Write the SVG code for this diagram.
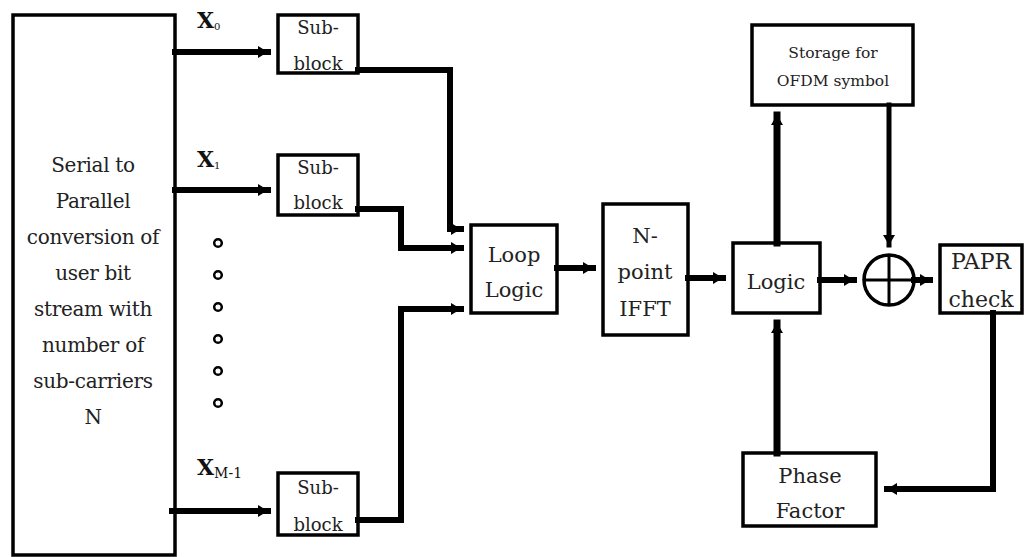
<svg xmlns="http://www.w3.org/2000/svg" width="1027" height="557" viewBox="0 0 1027 557">
<style>
.box{fill:#fff;stroke:#000;stroke-width:3.5}
text{font-family:'DejaVu Serif','Liberation Serif',serif}
.t{fill:#222;text-anchor:middle}
.c{fill:none;stroke:#000;stroke-width:6;stroke-linejoin:miter;stroke-linecap:square}
.lbl{fill:#111}
.dot{fill:#fff;stroke:#000;stroke-width:2.5}
</style>
<defs>
<marker id="ah" markerUnits="userSpaceOnUse" markerWidth="12" markerHeight="14" refX="10" refY="7" orient="auto">
<path d="M0,1 L10,7 L0,13 Z" fill="#000"/>
</marker>
</defs>
<rect width="1027" height="557" fill="#fff"/>

<g id="serial-to-parallel">
<rect class="box" x="13" y="15" width="162" height="540"/>
<text class="t" font-size="20" letter-spacing="-0.3"><tspan x="93" y="172">Serial to</tspan><tspan x="93" y="208">Parallel</tspan><tspan x="93" y="244">conversion of</tspan><tspan x="93" y="280">user bit</tspan><tspan x="93" y="316">stream with</tspan><tspan x="93" y="352">number of</tspan><tspan x="93" y="388">sub-carriers</tspan><tspan x="93" y="424">N</tspan></text>
</g>

<g id="labels">
<text class="lbl" x="197" y="28" font-size="22" font-weight="bold">X<tspan font-size="10" font-weight="normal" dy="2">0</tspan></text>
<text class="lbl" x="197" y="167" font-size="22" font-weight="bold">X<tspan font-size="10" font-weight="normal" dy="2">1</tspan></text>
<text class="lbl" x="197" y="475" font-size="22" font-weight="bold">X<tspan font-size="14" font-weight="normal" dy="3">M-1</tspan></text>
</g>

<g id="dots">
<circle class="dot" cx="218" cy="243" r="3.8"/>
<circle class="dot" cx="218" cy="275" r="3.8"/>
<circle class="dot" cx="218" cy="307" r="3.8"/>
<circle class="dot" cx="218" cy="339" r="3.8"/>
<circle class="dot" cx="218" cy="371" r="3.8"/>
<circle class="dot" cx="218" cy="403" r="3.8"/>
</g>

<g id="subblock-0">
<rect class="box" x="278" y="15" width="80" height="58"/>
<text class="t" font-size="18"><tspan x="318" y="34">Sub-</tspan><tspan x="318" y="70">block</tspan></text>
</g>
<g id="subblock-1">
<rect class="box" x="278" y="155" width="80" height="60"/>
<text class="t" font-size="18"><tspan x="318" y="174">Sub-</tspan><tspan x="318" y="209">block</tspan></text>
</g>
<g id="subblock-m1">
<rect class="box" x="278" y="473" width="80" height="62"/>
<text class="t" font-size="18"><tspan x="318" y="494">Sub-</tspan><tspan x="318" y="531">block</tspan></text>
</g>

<g id="loop-logic">
<rect class="box" x="471" y="225" width="86" height="88"/>
<text class="t" font-size="21"><tspan x="514" y="262">Loop</tspan><tspan x="514" y="297">Logic</tspan></text>
</g>

<g id="ifft">
<rect class="box" x="603" y="204" width="85" height="131"/>
<text class="t" font-size="21"><tspan x="645" y="243">N-</tspan><tspan x="645" y="279">point</tspan><tspan x="645" y="316">IFFT</tspan></text>
</g>

<g id="logic">
<rect class="box" x="733" y="243" width="87" height="70"/>
<text class="t" font-size="21" x="776" y="289">Logic</text>
</g>

<g id="storage">
<rect class="box" x="752" y="25" width="161" height="80"/>
<text class="t" font-size="15.5"><tspan x="833" y="58">Storage for</tspan><tspan x="833" y="86">OFDM symbol</tspan></text>
</g>

<g id="adder">
<circle cx="889" cy="280" r="25" fill="#fff" stroke="#000" stroke-width="3.5"/>
<line x1="864" y1="280" x2="914" y2="280" stroke="#000" stroke-width="3"/>
<line x1="889" y1="255" x2="889" y2="305" stroke="#000" stroke-width="3"/>
</g>

<g id="papr">
<rect class="box" x="940" y="245" width="82" height="68"/>
<text class="t" font-size="22"><tspan x="981" y="269">PAPR</tspan><tspan x="981" y="307">check</tspan></text>
</g>

<g id="phase-factor">
<rect class="box" x="743" y="453" width="133" height="73"/>
<text class="t" font-size="21"><tspan x="810" y="483">Phase</tspan><tspan x="810" y="518">Factor</tspan></text>
</g>

<g id="connectors">
<path class="c" d="M175,52 H268" marker-end="url(#ah)"/>
<path class="c" d="M175,190 H268" marker-end="url(#ah)"/>
<path class="c" d="M172,511 H268" marker-end="url(#ah)"/>
<path class="c" d="M358,70 H450 V229 H461" marker-end="url(#ah)"/>
<path class="c" d="M358,209 H401 V248 H461" marker-end="url(#ah)"/>
<path class="c" d="M358,520 H401 V309 H461" marker-end="url(#ah)"/>
<path class="c" d="M557,268 H593" marker-end="url(#ah)"/>
<path class="c" d="M688,278 H723" marker-end="url(#ah)"/>
<path class="c" d="M777,243 V115" marker-end="url(#ah)" style="stroke-width:7"/>
<path class="c" d="M889,105 V245" marker-end="url(#ah)" style="stroke-width:5"/>
<path class="c" d="M820,280 H854" marker-end="url(#ah)"/>
<path class="c" d="M914,280 H930" marker-end="url(#ah)"/>
<path class="c" d="M993,313 V489 H887" marker-end="url(#ah)"/>
<path class="c" d="M777,453 V323" marker-end="url(#ah)" style="stroke-width:7"/>
</g>
</svg>
